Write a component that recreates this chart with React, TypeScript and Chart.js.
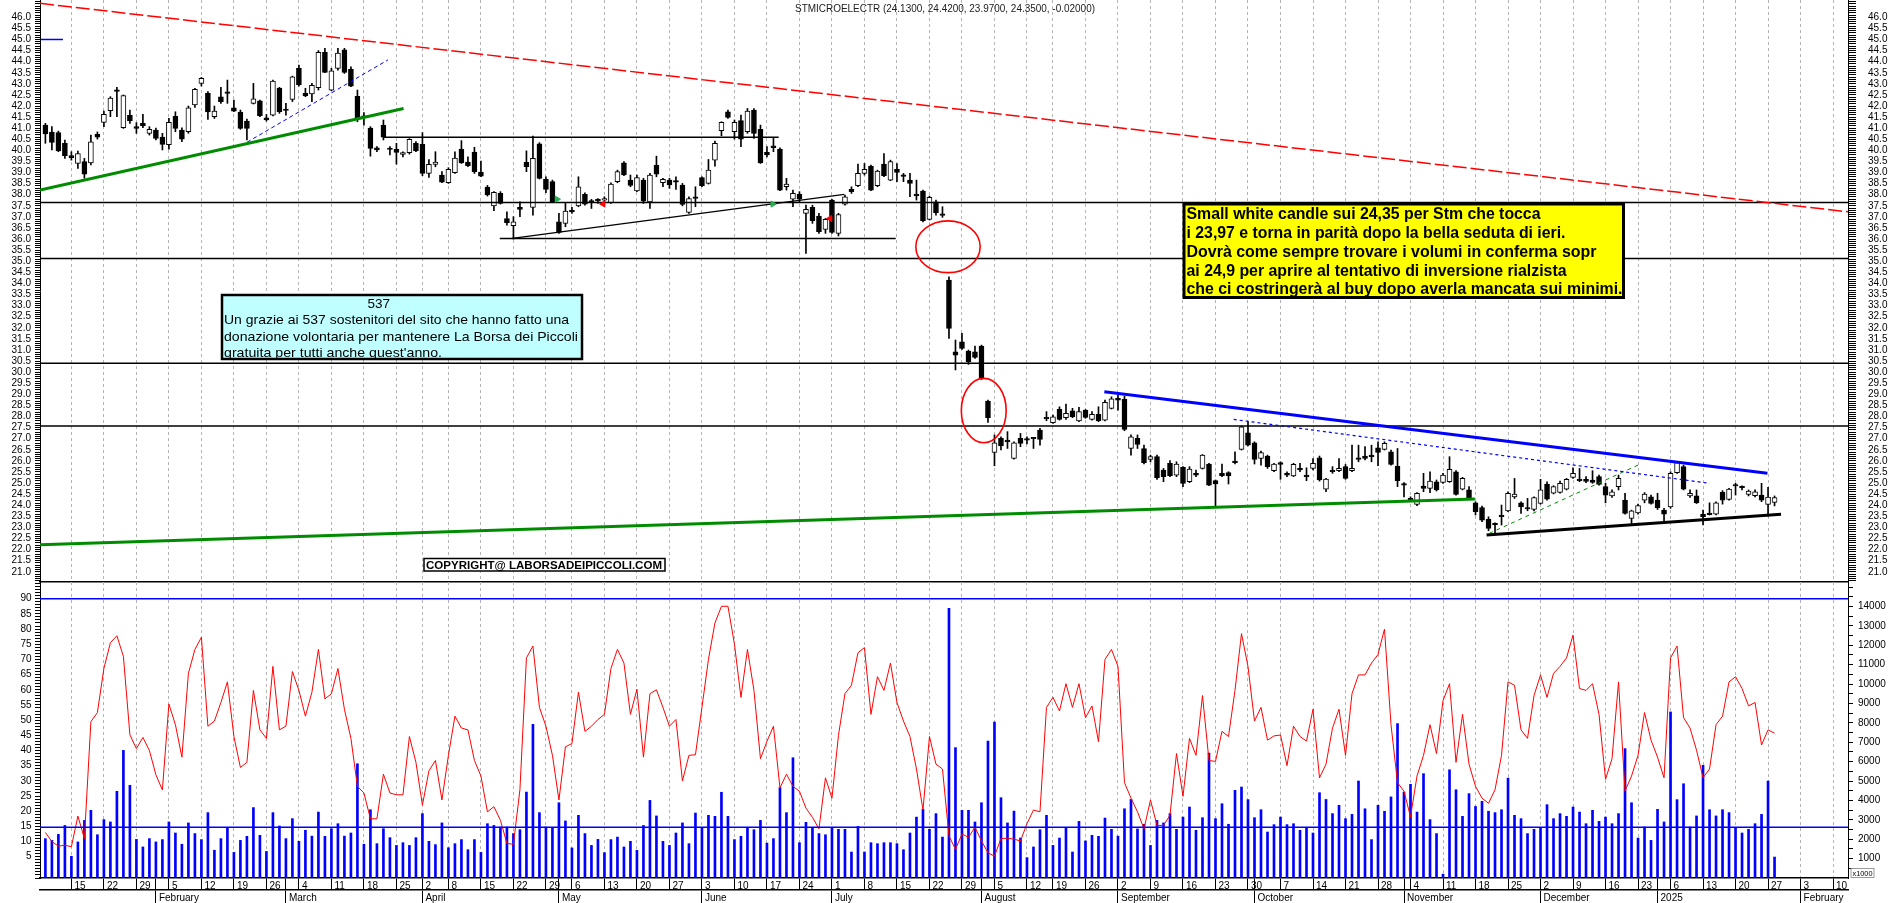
import React, { useEffect, useRef } from 'react';
import { Chart, registerables } from 'chart.js';
Chart.register(...registerables);

// ---------- DATA ----------
const OPEN = [
41.14,40.83,40.80,40.32,39.76,39.41,39.50,39.44,40.74,41.26,
41.79,42.71,41.02,41.58,41.07,41.22,40.77,40.92,40.60,40.26,
41.53,40.92,40.84,42.05,43.02,42.57,41.52,42.41,42.63,41.92,
41.73,41.32,42.12,42.23,41.47,41.59,42.81,41.80,42.30,43.70,
42.57,42.54,42.83,44.42,42.72,43.70,44.53,43.65,42.44,41.56,
41.01,40.11,41.14,40.05,40.05,39.82,39.90,40.32,40.27,38.96,
39.37,38.89,38.54,38.99,40.06,39.47,39.92,39.02,38.35,37.50,
38.06,36.93,36.60,37.43,39.46,37.43,40.29,38.69,38.59,36.78,
36.71,37.31,37.50,38.02,37.69,37.74,37.76,37.64,38.59,39.44,
38.66,38.17,38.66,37.68,39.34,38.54,38.66,38.59,38.44,37.20,
37.91,38.77,38.51,39.56,40.89,41.74,40.84,41.34,40.84,41.82,
40.95,39.91,40.21,40.06,38.36,37.80,38.03,37.16,37.43,37.04,
36.44,37.76,36.26,37.58,38.24,38.41,38.96,39.29,38.41,39.38,
38.66,39.14,38.85,38.66,38.03,38.17,36.89,37.68,37.09,34.15,
30.92,31.37,30.95,30.92,31.18,28.70,26.38,27.02,26.94,26.11,
27.02,26.98,27.02,27.39,27.96,27.72,28.32,27.95,28.26,27.80,
28.29,27.87,28.10,27.84,28.37,28.82,28.79,26.56,27.02,26.56,
26.07,26.19,25.59,25.89,25.36,25.71,25.06,25.44,25.66,25.86,
25.11,25.44,25.47,25.96,26.52,27.27,26.82,26.11,26.22,25.56,
25.92,25.44,25.32,25.66,25.30,25.66,26.14,24.73,25.59,25.56,
25.74,25.56,26.14,26.22,26.26,26.59,26.52,26.41,25.77,24.96,
24.31,24.04,24.87,24.76,25.06,25.03,25.06,25.51,24.73,24.69,
24.11,23.89,23.36,23.18,23.56,23.75,24.38,24.11,23.90,23.81,
24.08,24.96,24.54,24.58,24.72,25.26,25.17,25.17,25.14,25.29,
24.84,24.42,24.84,24.23,23.41,23.66,24.23,24.38,24.23,23.78,
23.93,25.47,25.74,24.42,24.42,23.60,23.58,23.60,24.58,24.26,
24.91,24.80,24.49,24.43,24.46,24.04,24.13];
const HIGH = [
41.22,41.07,40.87,40.47,39.94,39.97,39.64,40.69,40.83,41.77,
42.42,42.84,42.50,41.82,41.25,41.62,41.07,41.00,40.77,41.44,
41.74,41.02,42.00,42.80,43.29,42.65,42.00,42.84,43.17,42.27,
41.82,41.41,43.02,42.27,41.62,43.17,42.84,42.12,43.35,43.85,
42.80,43.02,44.50,44.60,43.70,44.60,44.60,43.77,42.72,41.70,
41.07,40.17,41.37,40.17,40.32,39.94,40.53,40.40,40.80,39.59,
39.94,39.04,39.22,39.94,40.44,39.71,40.14,39.52,38.42,38.14,
38.14,37.23,37.01,37.68,39.98,40.65,40.35,38.81,38.66,37.16,
37.61,37.43,38.81,38.09,37.79,37.83,37.91,38.54,39.11,39.49,
38.89,38.89,38.74,38.96,39.74,38.74,38.74,38.81,38.51,37.91,
38.36,38.81,39.59,40.42,41.29,41.82,41.37,41.59,41.89,41.89,
41.14,40.17,40.54,40.12,38.74,38.21,38.14,37.53,37.53,37.16,
36.93,37.79,37.16,37.98,38.36,39.38,39.41,39.34,39.11,39.86,
39.56,39.41,38.96,38.96,38.66,38.21,37.94,37.76,37.46,34.30,
31.45,31.75,31.00,31.18,31.22,28.74,27.17,27.09,27.32,26.86,
27.24,27.09,27.06,27.47,28.22,28.07,28.44,28.56,28.37,28.41,
28.32,28.22,28.44,28.74,28.89,28.97,28.92,27.17,27.17,26.71,
26.26,26.26,25.66,26.01,25.96,25.74,25.74,25.59,26.29,25.89,
25.14,25.86,25.51,26.41,27.57,27.77,26.86,26.44,26.26,25.89,
25.96,25.51,25.89,25.89,25.69,26.11,26.22,25.21,25.74,26.11,
25.84,26.71,26.71,26.64,26.71,26.86,26.86,26.49,26.56,25.02,
24.38,24.57,25.44,25.51,25.14,25.44,26.19,25.56,25.26,24.84,
24.16,23.96,23.48,23.21,24.01,24.61,25.21,24.16,24.31,24.38,
25.17,25.06,24.88,25.09,25.21,25.69,25.66,25.29,25.56,25.36,
24.99,24.69,25.36,24.54,23.78,24.05,24.57,24.46,24.54,23.86,
25.51,25.96,25.81,24.69,24.69,23.78,24.11,24.16,24.66,24.76,
24.99,24.88,24.69,24.69,24.99,24.81,24.42];
const LOW = [
40.32,40.02,39.94,39.64,39.56,39.19,38.74,39.34,40.51,41.07,
41.52,41.52,40.99,41.22,40.77,41.02,40.69,40.47,40.02,40.05,
40.84,40.39,40.77,41.94,42.90,41.40,41.44,42.12,42.12,41.74,
40.95,40.47,42.09,41.52,41.32,41.55,41.67,41.59,42.20,42.90,
42.42,42.20,42.72,43.50,42.69,43.62,43.47,42.87,41.29,41.14,
39.74,39.94,40.47,39.79,39.38,39.71,39.83,39.94,38.86,38.78,
39.26,38.54,38.51,38.96,39.41,39.26,38.96,38.81,37.94,37.28,
37.58,36.63,36.00,37.01,39.04,37.08,38.71,38.09,37.65,36.26,
36.56,37.16,37.46,37.53,37.38,37.61,37.61,37.61,38.54,38.86,
38.36,38.14,37.61,37.38,38.81,38.36,38.29,38.24,37.50,37.16,
37.46,38.36,38.48,39.29,40.66,41.44,40.51,40.17,40.77,40.54,
39.41,39.71,39.94,38.18,38.21,37.46,37.68,35.35,36.71,36.26,
36.26,36.26,36.14,37.53,38.06,38.36,38.89,38.18,38.36,38.81,
38.63,38.59,38.59,37.91,37.76,36.78,36.86,37.08,36.98,31.52,
30.10,31.03,30.35,30.62,29.67,27.74,25.78,26.49,26.56,26.08,
26.64,26.76,26.56,26.71,27.81,27.69,27.84,27.87,27.95,27.77,
27.92,27.84,27.77,27.80,28.34,28.29,27.36,26.26,26.56,25.86,
25.96,25.17,25.06,25.29,25.29,24.84,25.02,25.29,25.63,24.88,
23.98,25.29,24.96,25.86,26.49,26.67,25.86,25.81,25.66,25.51,
25.17,25.29,25.29,25.51,25.11,25.59,25.09,24.61,25.44,25.51,
25.17,25.51,25.96,26.04,25.96,25.78,26.49,25.81,24.84,24.38,
24.16,23.98,24.61,24.57,24.64,24.99,25.03,24.46,24.69,24.26,
23.56,23.26,22.85,22.73,23.11,23.71,24.31,23.63,23.75,23.75,
24.05,24.23,24.51,24.54,24.69,25.21,25.06,25.02,24.99,24.91,
24.11,24.35,24.69,23.60,23.15,23.60,24.11,24.05,23.81,23.30,
23.86,25.44,24.69,24.35,24.08,23.11,23.56,23.56,24.05,24.23,
24.46,24.69,24.42,24.38,24.16,23.51,23.97];
const CLOSE = [
40.74,40.36,39.98,39.76,39.67,39.86,38.93,40.38,40.59,41.62,
42.36,42.66,42.47,41.34,40.99,41.10,40.95,40.54,40.27,41.26,
40.99,40.51,41.92,42.75,43.25,41.73,41.77,42.20,42.57,41.77,
40.99,40.99,42.32,41.56,41.37,43.13,41.74,41.82,43.32,42.95,
42.45,42.93,44.42,43.52,43.59,44.39,43.52,42.90,41.46,41.49,
40.09,40.02,40.59,40.04,39.91,39.90,40.50,39.98,38.96,39.37,
39.47,38.57,39.14,39.65,39.44,39.31,39.04,38.84,37.99,38.11,
37.61,36.74,36.78,37.34,39.26,39.64,38.74,38.24,37.68,36.30,
37.26,37.23,38.36,37.58,37.67,37.72,37.83,38.48,39.04,38.89,
38.42,38.77,37.71,38.89,38.93,38.69,38.44,38.57,37.56,37.83,
37.83,38.41,39.11,40.32,41.26,41.49,41.26,40.51,41.77,40.77,
39.44,39.79,40.12,38.21,38.48,38.06,37.80,37.34,36.83,36.33,
36.89,36.30,37.11,37.91,38.14,38.96,39.14,38.21,39.07,38.86,
39.49,39.01,38.83,38.51,37.95,36.83,37.88,37.19,37.07,31.97,
30.77,31.07,30.47,30.67,29.72,27.95,26.82,26.68,26.86,26.82,
26.79,26.94,27.00,26.97,27.89,27.99,27.87,28.14,27.99,28.22,
27.96,28.10,27.81,28.64,28.80,28.74,27.42,27.09,26.74,25.92,
26.19,25.24,25.29,25.33,25.86,24.99,25.63,25.36,26.26,24.91,
24.96,25.33,25.33,25.92,27.54,26.71,26.07,26.38,25.74,25.86,
25.84,25.36,25.84,25.59,25.29,25.89,25.14,25.18,25.51,25.66,
25.21,25.66,26.07,26.11,26.19,26.38,26.79,25.84,25.11,24.91,
24.23,24.54,24.76,25.09,24.69,25.36,25.62,24.49,25.21,24.31,
23.71,23.33,22.96,23.11,23.48,24.54,24.50,23.93,23.83,24.35,
24.69,24.28,24.84,24.99,25.17,25.44,25.11,25.08,25.03,24.94,
24.46,24.61,25.21,23.63,23.75,23.98,24.50,24.08,23.89,23.60,
25.44,25.92,24.73,24.54,24.11,23.48,23.60,24.11,24.23,24.73,
24.87,24.79,24.64,24.61,24.23,24.37,24.35];

const OSC = [
13,10,8.5,8.8,8.3,18.4,11,49.5,52.5,67,
75.5,77.8,71,45.2,40.6,44.3,40,32,27,55.3,
48.5,37.8,65.4,73.3,77.3,48,49.7,55.8,62.6,44.6,
34.4,36.1,59.8,46.8,44,67.7,46.8,48,66,59.8,
51.3,59.2,73.3,57,58.7,67,53.6,44,28.2,26,
17.5,17.5,32.2,26,25.4,25.4,44.6,36.1,22,33.3,
36.7,23.7,38.4,51.3,47.4,46.8,36.7,31.6,19.8,21.5,
17,9.4,9.1,27.1,70.5,74.4,54.2,48,38.4,23.7,
41.2,42.3,59.2,46.3,48,50.2,51.9,67,73.3,68.8,
51.9,60.2,37.8,58.7,60,54.2,48,50.2,30,38.4,
38.6,54.2,70,82,87.5,87.5,75,57.5,73.3,59.8,
37.3,43,48,27.7,32.2,28.2,26.6,21,18,14.2,
31,24.3,45,58.7,61.5,72.2,73.9,51.9,64.3,59.8,
68.8,55.8,49.7,44.6,33.9,20.4,44.6,35.5,33.9,11.9,
7.4,12.5,11.4,14.7,10.2,6.3,5.2,11,11.1,10.8,
10.2,15.9,20.4,19.8,54.2,57.5,53,62,54.2,62,
50.8,54.7,42.9,70,73.3,67.7,29.4,24.3,19.8,14.2,
23.7,15.3,15.3,18.7,39,24.9,44,38.4,58.1,36.7,
36.4,46.3,44.6,59.8,78.5,67.7,49.7,54.2,43.4,44.8,
45.1,35,48,44.6,43.1,53.6,31,35.5,47.4,53.6,
38.4,58.7,64.9,64.9,68.8,71.6,80,48.5,29.4,26.6,
18.1,31.6,38.4,48.5,39,56.4,62,36.1,51.9,35.5,
28.2,24.3,22.6,27.1,38.4,62.6,61.5,46.8,44,58.1,
64.9,57.5,65.4,67.7,70.5,78,60.4,59.8,62,51.9,
30.5,37.3,62.6,26.6,31.6,38.4,52.5,43.4,37.8,31,
70.5,74.4,50.8,47.4,40.1,31,33.9,48.5,51.3,62.6,
64.3,60.4,54.7,55.8,41.8,46.8,45.7];

const VOLUME = [
2030,1940,2250,2710,1120,1860,2970,3490,2230,3010,
2890,4470,6580,4780,1990,1600,2030,1860,1980,2890,
2320,1740,2840,2290,1980,3370,1430,2030,2580,1320,
1940,2150,3630,2200,1370,3370,2680,2030,3060,1890,
2460,2160,3400,2150,2540,2800,2160,2320,5890,1740,
3520,1770,2540,2080,1680,1820,1680,2080,3320,1890,
1720,2840,1560,1770,1980,1460,1980,1320,2800,2710,
2630,2630,2290,2490,4430,7920,3370,2630,2590,3880,
2940,1550,3230,2290,1680,1990,1310,1980,2110,1600,
1890,1430,2710,4000,3200,1890,1680,2320,2840,1770,
3350,2590,3230,3180,4420,3180,1980,2150,2590,2490,
2970,1800,2030,4660,3370,6200,1820,2870,2590,2290,
2230,2590,2510,2510,1340,2660,1340,1820,1770,1820,
1820,1770,1460,2320,3140,3540,2510,3320,2110,13900,
6720,3490,3490,2890,3880,7060,8040,4140,2840,3450,
2060,1050,1600,2490,3230,1680,2060,2590,1340,2920,
1910,2200,2150,3090,2510,2160,3570,4050,2530,2770,
1680,2970,2840,3320,2510,3140,3660,2460,3110,6440,
3060,3830,2770,4520,4690,4040,3110,3520,2370,2750,
3140,2750,2800,2460,2580,2320,4400,4050,3320,3750,
3060,3280,5000,3570,1980,3750,3440,4180,7960,4430,
4830,3400,5380,3010,2290,200,5580,4550,3180,4350,
3690,3950,3440,3370,3520,5150,3230,3060,2290,2510,
2580,3780,3060,3320,3180,3660,3400,2800,3490,2920,
3140,2800,3320,6670,3880,2060,2630,1940,3540,2890,
8560,4040,4860,2630,3200,5810,3520,3200,3520,3370,
2580,2320,2510,2800,3280,5000,1080];

// x axis: trading-day index (0 = 9 Jan 2024)
const WEEK_IDX = [4,9,14,19,24,29,34,39,44,49,54,58,62,67,72,77,81,86,91,96,101,106,111,116,121,126,131,136,141,146,151,155,160,165,170,175,180,185,190,195,200,205,210,215,220,225,230,235,240,245,250,255,260,265,270,275];
const WEEK_LABELS = ['15','22','29','5','12','19','26','4','11','18','25','2','8','15','22','29','6','13','20','27','3','10','17','24','1','8','15','22','29','5','12','19','26','2','9','16','23','30','7','14','21','28','4','11','18','25','2','9','16','23','6','13','20','27','3','10'];
const MONTH_IDX = [17,37,58,79,101,121,144,165,186,209,230,248,270];
const MONTH_LABELS = ['February','March','April','May','June','July','August','September','October','November','December','2025','February'];
const VOL_TICKS = [500,1000,1500,2000,2500,3000,3500,4000,4500,5000,5500,6000,6500,7000,7500,8000,8500,9000,9500,10000,10500,11000,11500,12000,12500,13000,13500,14000,14500,15000];
const VOL_LABELED = [1000,2000,3000,4000,5000,6000,7000,8000,9000,10000,11000,12000,13000,14000];

const X_MIN = -0.83, X_MAX = 277.3;
const PRICE_MIN = 20.54, PRICE_MAX = 46.78;
const OSC_MIN = -2, OSC_MAX = 95.5;
const VOL_MAX = 15260;
const OSC_LEVEL = 90;
const VOL_AVG = 2620;

// drawn studies (index, price)
const H_LEVELS = [37.65, 35.13, 30.40, 27.57];
const RED_TREND = [[-0.83, 46.63], [277.3, 37.23]];
const GREEN_TREND_1 = [[-0.83, 38.21], [55.1, 41.89]];
const BLUE_DASH_1 = [[30.1, 40.21], [52.7, 44.08]];
const RESIST_406 = [[51.9, 40.59], [112.8, 40.59]];
const SUPPORT_360 = [[69.9, 36.03], [130.8, 36.03]];
const RISING_BLACK = [[71.8, 36.03], [122.9, 38.02]];
const BLUE_TREND = [[162.9, 29.12], [264.9, 25.44]];
const BLUE_DOTTED = [[182.8, 27.87], [256.0, 24.99]];
const GREEN_TREND_2 = [[-0.83, 22.22], [219.9, 24.28]];
const BLACK_SUPPORT = [[221.7, 22.66], [267.0, 23.59]];
const GREEN_DASH_2 = [[222.1, 22.73], [245.0, 25.81]];
const MARK_45 = [[-0.7, 45.0], [2.7, 45.0]];
const ELLIPSES = [[133.9, 143.8, 36.82, 34.49], [140.9, 147.8, 29.72, 26.82]];
const BUY_ARROWS = [[78.7, 37.80], [111.9, 37.58]];
const SELL_ARROWS = [[85.8, 37.58], [120.7, 36.93]];

const TITLE = 'STMICROELECTR (24.1300, 24.4200, 23.9700, 24.3500, -0.02000)';
const NOTE_CYAN = ['537', 'Un grazie ai 537 sostenitori del sito che hanno fatto una', 'donazione volontaria per mantenere La Borsa dei Piccoli', "gratuita per tutti anche quest'anno."];
const NOTE_YELLOW = ['Small white candle sui 24,35 per  Stm che tocca', 'i 23,97 e torna in parità dopo la bella seduta di ieri.', 'Dovrà come sempre trovare i volumi in conferma sopr', 'ai 24,9 per aprire al tentativo di inversione rialzista', 'che ci costringerà al buy dopo averla mancata sui minimi.'];
const COPYRIGHT = 'COPYRIGHT@ LABORSADEIPICCOLI.COM';

// ---------- CHART HELPERS ----------
const FONT = "'Liberation Sans', Arial, sans-serif";
Chart.defaults.font.family = FONT;
Chart.defaults.color = '#000';

const toPts = (arr) => arr.map(([x, y]) => ({ x, y }));
const seg = (pts, color, width, dash = []) => ({
  type: 'line', data: toPts(pts), borderColor: color, borderWidth: width, borderDash: dash,
  pointRadius: 0, fill: false, tension: 0, xAxisID: 'x', yAxisID: 'y',
});

const fitW = (w) => (s) => { s.width = w; s.paddingTop = 0; s.paddingBottom = 0; s.paddingLeft = 0; s.paddingRight = 0; };
const fitH = (h) => (s) => { s.height = h; s.paddingLeft = 0; s.paddingRight = 0; s.paddingTop = 0; s.paddingBottom = 0; };

const ellipsePlugin = {
  id: 'ellipses',
  afterDatasetsDraw(chart) {
    const { ctx } = chart; const xs = chart.scales.x; const ys = chart.scales.y;
    ctx.save(); ctx.strokeStyle = '#FF0000'; ctx.lineWidth = 1.6;
    for (const [x1, x2, y1, y2] of ELLIPSES) {
      const px1 = xs.getPixelForValue(x1), px2 = xs.getPixelForValue(x2);
      const py1 = ys.getPixelForValue(y1), py2 = ys.getPixelForValue(y2);
      ctx.beginPath();
      ctx.ellipse((px1 + px2) / 2, (py1 + py2) / 2, Math.abs(px2 - px1) / 2, Math.abs(py2 - py1) / 2, 0, 0, Math.PI * 2);
      ctx.stroke();
    }
    ctx.restore();
  },
};

function priceLabel(v) {
  const r = Math.round(v * 2) / 2;
  return Math.abs(v - r) < 1e-6 && r >= 20.99 && r <= 46.01 ? r.toFixed(1) : '';
}

function topConfig() {
  const bodyColors = OPEN.map((o, i) => (Math.abs(CLOSE[i] - o) < 0.03 ? '#000' : CLOSE[i] > o ? '#FFFFFF' : '#000000'));
  const datasets = [
    { type: 'line', data: toPts(BUY_ARROWS), showLine: false, pointStyle: 'triangle', pointRotation: 90, pointRadius: 3.5, pointBackgroundColor: '#22B14C', pointBorderColor: '#22B14C', xAxisID: 'x', yAxisID: 'y' },
    { type: 'line', data: toPts(SELL_ARROWS), showLine: false, pointStyle: 'triangle', pointRotation: -90, pointRadius: 3.5, pointBackgroundColor: '#FF0000', pointBorderColor: '#FF0000', xAxisID: 'x', yAxisID: 'y' },
    seg(RED_TREND, '#FF0000', 1.5, [14, 4]),
    seg(GREEN_TREND_1, '#008C00', 3),
    seg(BLUE_DASH_1, '#0000FF', 1, [4, 3]),
    seg(RESIST_406, '#000000', 1.5),
    seg(SUPPORT_360, '#000000', 1.5),
    seg(RISING_BLACK, '#000000', 1.2),
    seg(BLUE_TREND, '#0000FF', 3),
    seg(BLUE_DOTTED, '#0000FF', 1.2, [3, 3]),
    seg(GREEN_TREND_2, '#008C00', 3),
    seg(BLACK_SUPPORT, '#000000', 3),
    seg(GREEN_DASH_2, '#008C00', 1, [4, 4]),
    seg(MARK_45, '#0000FF', 1.5),
    ...H_LEVELS.map((lv) => seg([[X_MIN, lv], [X_MAX, lv]], '#000000', 1.5)),
    {
      type: 'bar', data: OPEN.map((o, i) => ({ x: i, y: [Math.min(o, CLOSE[i]), Math.max(o, CLOSE[i])] })),
      backgroundColor: bodyColors, borderColor: '#000', borderWidth: 1, borderSkipped: false,
      barThickness: 5, grouped: false, minBarLength: 1.5, xAxisID: 'x', yAxisID: 'y',
    },
    {
      type: 'bar', data: HIGH.map((h, i) => ({ x: i, y: [LOW[i], h] })),
      backgroundColor: '#000', borderWidth: 0, barThickness: 1, grouped: false, xAxisID: 'x', yAxisID: 'y',
    },
  ];
  const yCommon = {
    type: 'linear', min: PRICE_MIN, max: PRICE_MAX, beginAtZero: false,
    ticks: { stepSize: 0.1, autoSkip: false, includeBounds: false, font: { size: 10 }, color: '#000', callback: priceLabel },
    grid: { drawOnChartArea: false, drawTicks: true, tickColor: '#000', color: '#000' },
    border: { display: true, color: '#000', width: 1 },
  };
  return {
    type: 'bar',
    data: { datasets },
    plugins: [ellipsePlugin],
    options: {
      animation: false, responsive: false, maintainAspectRatio: false,
      layout: { autoPadding: false, padding: { left: 0, right: 0, top: 0, bottom: 2 } },
      plugins: { legend: { display: false }, tooltip: { enabled: false }, title: { display: false } },
      scales: {
        x: {
          type: 'linear', position: 'bottom', min: X_MIN, max: X_MAX, offset: false,
          afterBuildTicks: (s) => { s.ticks = WEEK_IDX.map((v) => ({ value: v })); },
          ticks: { display: false, autoSkip: false },
          grid: { offset: false, drawOnChartArea: true, drawTicks: false, color: '#B4B4B4', lineWidth: 1 },
          border: { display: true, color: '#000', width: 1.5, dash: [3, 3] },
          afterFit: fitH(0),
        },
        y: { ...yCommon, position: 'left', ticks: { ...yCommon.ticks, padding: 4 }, grid: { ...yCommon.grid, tickLength: 5 }, afterFit: fitW(40) },
        yR: { ...yCommon, position: 'right', ticks: { ...yCommon.ticks, padding: 12 }, grid: { ...yCommon.grid, tickLength: 8 }, afterFit: fitW(42) },
      },
    },
  };
}

function bottomConfig() {
  const allTicks = Array.from(new Set([...WEEK_IDX, ...MONTH_IDX])).sort((a, b) => a - b);
  const datasets = [
    { type: 'line', data: [{ x: X_MIN, y: OSC_LEVEL }, { x: X_MAX, y: OSC_LEVEL }], borderColor: '#0000FF', borderWidth: 1.5, pointRadius: 0, xAxisID: 'x', yAxisID: 'yI' },
    { type: 'line', data: [{ x: X_MIN, y: VOL_AVG }, { x: X_MAX, y: VOL_AVG }], borderColor: '#0000FF', borderWidth: 1.5, pointRadius: 0, xAxisID: 'x', yAxisID: 'yV' },
    { type: 'line', data: OSC.map((v, i) => ({ x: i, y: v })), borderColor: '#FF0000', borderWidth: 1, pointRadius: 0, tension: 0, xAxisID: 'x', yAxisID: 'yI' },
    { type: 'bar', data: VOLUME.map((v, i) => ({ x: i, y: v })), backgroundColor: '#0000FF', borderWidth: 0, barThickness: 2, grouped: false, xAxisID: 'x', yAxisID: 'yV' },
  ];
  return {
    type: 'bar',
    data: { datasets },
    options: {
      animation: false, responsive: false, maintainAspectRatio: false,
      layout: { autoPadding: false, padding: 0 },
      plugins: { legend: { display: false }, tooltip: { enabled: false }, title: { display: false } },
      scales: {
        x: {
          type: 'linear', position: 'bottom', weight: 0, min: X_MIN, max: X_MAX, offset: false,
          afterBuildTicks: (s) => { s.ticks = allTicks.map((v) => ({ value: v })); },
          ticks: {
            autoSkip: false, maxRotation: 0, minRotation: 0, align: 'start', labelOffset: 3, padding: -10,
            font: { size: 10 }, color: '#000',
            callback: (v) => { const k = WEEK_IDX.indexOf(v); return k >= 0 ? WEEK_LABELS[k] : ''; },
          },
          grid: {
            offset: false, drawOnChartArea: true, drawTicks: true, tickLength: 12, tickColor: '#000', tickWidth: 1, lineWidth: 1,
            color: (c) => (c.tick && WEEK_IDX.includes(c.tick.value) ? '#B4B4B4' : 'rgba(0,0,0,0)'),
          },
          border: { display: true, color: '#000', width: 1.5, dash: [3, 3] },
          afterFit: fitH(12),
        },
        x2: {
          type: 'linear', position: 'bottom', weight: 1, min: X_MIN, max: X_MAX, offset: false,
          afterBuildTicks: (s) => { s.ticks = MONTH_IDX.map((v) => ({ value: v })); },
          ticks: {
            autoSkip: false, maxRotation: 0, minRotation: 0, align: 'start', labelOffset: 3, padding: -11,
            font: { size: 10 }, color: '#000',
            callback: (v) => { const k = MONTH_IDX.indexOf(v); return k >= 0 ? MONTH_LABELS[k] : ''; },
          },
          grid: { offset: false, drawOnChartArea: false, drawTicks: true, tickLength: 13, tickColor: '#000', color: '#000' },
          border: { display: true, color: '#000', width: 1.5 },
          afterFit: fitH(13),
        },
        yI: {
          type: 'linear', position: 'left', min: OSC_MIN, max: OSC_MAX, beginAtZero: false,
          ticks: { stepSize: 1, autoSkip: false, includeBounds: false, padding: 3.5, font: { size: 10 }, color: '#000',
            callback: (v) => (Math.abs(v % 5) < 1e-6 && v >= 5 && v <= 90 ? String(Math.round(v)) : '') },
          grid: { drawOnChartArea: false, drawTicks: true, tickLength: 5, tickColor: '#000', color: '#000' },
          border: { display: true, color: '#000', width: 1 },
          afterFit: fitW(40),
        },
        yV: {
          type: 'linear', position: 'right', min: 0, max: VOL_MAX, beginAtZero: false, display: true,
          afterBuildTicks: (s) => { s.ticks = VOL_TICKS.map((v) => ({ value: v })); },
          ticks: { autoSkip: false, padding: 5, font: { size: 10 }, color: '#000',
            callback: (v) => { const r = Math.round(Number(v)); return VOL_LABELED.includes(r) ? String(r) : ''; } },
          grid: { drawOnChartArea: false, drawTicks: true, tickLength: 5, tickColor: '#000', color: '#000' },
          border: { display: true, color: '#000', width: 1 },
          afterFit: fitW(42),
        },
      },
    },
  };
}

export default function App() {
  const topRef = useRef(null);
  const botRef = useRef(null);
  useEffect(() => {
    const c1 = new Chart(topRef.current, topConfig());
    const c2 = new Chart(botRef.current, bottomConfig());
    return () => { c1.destroy(); c2.destroy(); };
  }, []);
  const cyanBase = [307.5, 324, 340.5, 357];
  const cyanLen = [0, 345, 354, 218];
  const yBase = [218.5, 237.5, 257, 276, 293.5];
  const yLen = [354, 379, 410, 380, 436];
  return (
    <div style={{ position: 'absolute', left: 0, top: 0, width: 1890, height: 903, background: '#fff', overflow: 'hidden' }}>
      <canvas ref={topRef} width={1890} height={584} style={{ position: 'absolute', left: 0, top: 0 }} />
      <canvas ref={botRef} width={1890} height={321} style={{ position: 'absolute', left: 0, top: 582 }} />
      <svg width={1890} height={903} style={{ position: 'absolute', left: 0, top: 0, pointerEvents: 'none' }} fontFamily={FONT}>
        <text x={795} y={12} fontSize={10} fill="#202020" textLength={300} lengthAdjust="spacingAndGlyphs">{TITLE}</text>
        <rect x={222} y={295} width={360} height={64} fill="#C0FFFF" stroke="#000" strokeWidth={2.5} />
        {NOTE_CYAN.map((t, i) => i === 0
          ? <text key={i} x={378.8} y={cyanBase[i]} fontSize={13.5} textAnchor="middle" fill="#000">{t}</text>
          : <text key={i} x={224} y={cyanBase[i]} fontSize={13.5} fill="#000" textLength={cyanLen[i]} lengthAdjust="spacingAndGlyphs">{t}</text>)}
        <rect x={1184} y={204} width={439.5} height={93.5} fill="#FFFF00" stroke="#000" strokeWidth={3} />
        {NOTE_YELLOW.map((t, i) => (
          <text key={i} x={1186.5} y={yBase[i]} fontSize={16} fontWeight="bold" fill="#000" textLength={yLen[i]} lengthAdjust="spacingAndGlyphs">{t}</text>
        ))}
        <rect x={424} y={558.5} width={241} height={12.5} fill="#FFFFFF" stroke="#000" strokeWidth={1.5} />
        <text x={426} y={568.8} fontSize={11} fontWeight="bold" fill="#000" textLength={236} lengthAdjust="spacingAndGlyphs">{COPYRIGHT}</text>
        <rect x={1851} y={868.5} width={23} height={9} fill="#FFFFFF" stroke="#808080" strokeWidth={0.8} />
        <text x={1852.5} y={876} fontSize={7} fill="#000" textLength={20} lengthAdjust="spacingAndGlyphs">x1000</text>
      </svg>
    </div>
  );
}
